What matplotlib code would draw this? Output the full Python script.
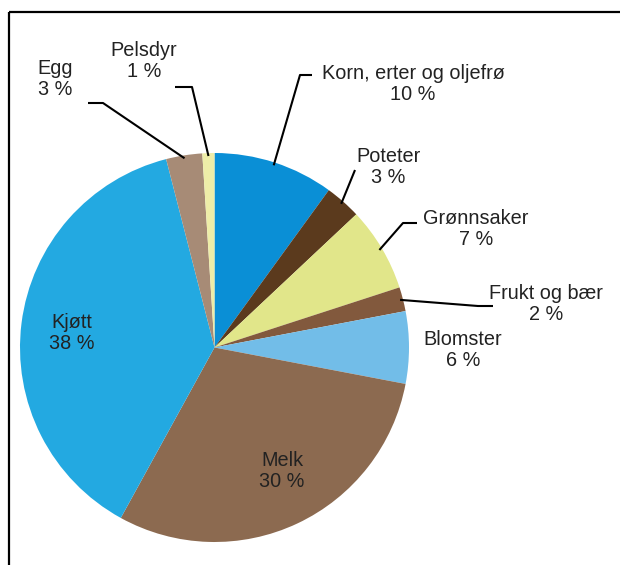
import numpy as np
import matplotlib.pyplot as plt
from matplotlib.patches import Rectangle

plt.rcParams['font.family'] = ['Liberation Sans', 'DejaVu Sans']

labels = ['Korn, erter og oljefrø', 'Poteter', 'Grønnsaker', 'Frukt og bær', 'Blomster',
          'Melk', 'Kjøtt', 'Egg', 'Pelsdyr']
shares = [10, 3, 7, 2, 6, 30, 38, 3, 1]
colors = ['#0A8FD6', '#5B3A1D', '#E1E68A', '#82593D', '#72BDE8',
          '#8C6A50', '#23A9E1', '#A78B76', '#EEEDA8']

W, H = 620, 565
cx, cy, R = 214.5, H - 347.5, 194.5

fig = plt.figure(figsize=(W / 100, H / 100), dpi=100)
ax = fig.add_axes([0, 0, 1, 1])
ax.pie(shares, colors=colors, startangle=90, counterclock=False,
       center=(cx, cy), radius=R, frame=True,
       wedgeprops=dict(linewidth=0))
ax.set_xlim(0, W)
ax.set_ylim(0, H)
ax.set_aspect('equal')
ax.axis('off')

# ramme rundt figuren
ax.add_patch(Rectangle((9, H - 12), 800, -700, fill=False, lw=1.6, ec='black', clip_on=False))

# tekstplassering (x, y fra toppen) og knekkpunkter for linjer
layout = {
    'Korn, erter og oljefrø': ((413, 84), [(300, 75), (312, 75)]),
    'Poteter': ((388, 167), [(355, 170)]),
    'Grønnsaker': ((476, 229), [(403, 223), (417, 223)]),
    'Frukt og bær': ((546, 304), [(478, 306), (493, 306)]),
    'Blomster': ((463, 350), None),
    'Melk': ((282, 471), None),
    'Kjøtt': ((72, 333), None),
    'Egg': ((55, 79), [(103, 103), (88, 103)]),
    'Pelsdyr': ((144, 61), [(192, 87), (175, 87)]),
}

cum = np.cumsum([0] + shares)
total = sum(shares)
for i, lab in enumerate(labels):
    (tx, ty), pts = layout[lab]
    ax.text(tx, H - ty, f'{lab}\n{shares[i]} %', ha='center', va='center',
            fontsize=14.3, color='#222222', linespacing=1.1)
    if pts:
        mid = 90 - 360 * (cum[i] + shares[i] / 2) / total
        a = np.deg2rad(mid)
        xs = [cx + 0.985 * R * np.cos(a)] + [p[0] for p in pts]
        ys = [cy + 0.985 * R * np.sin(a)] + [H - p[1] for p in pts]
        ax.plot(xs, ys, color='black', lw=1.5, solid_capstyle='butt')

fig.savefig('out.png', dpi=100)
